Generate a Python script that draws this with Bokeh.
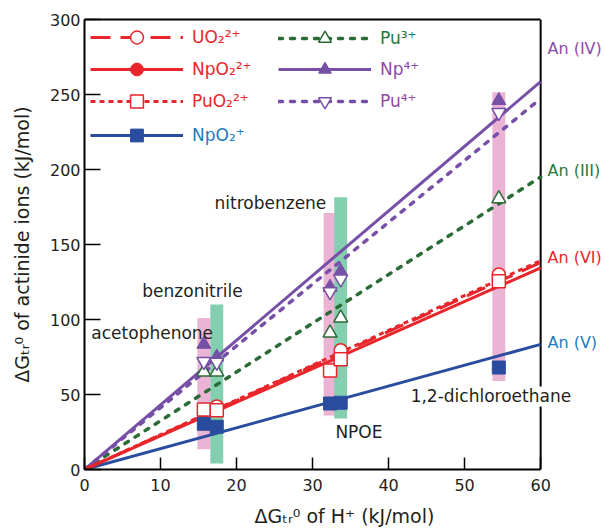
import numpy as np
from bokeh.plotting import figure
from bokeh.models import (Range1d, Label, Legend, LegendItem, FixedTicker,
                          LinearAxis, ColumnDataSource)
from bokeh.embed import file_html
from bokeh.resources import INLINE

FONT = "DejaVu Sans"
nan = float("nan")

# ---------------- data ----------------
solvents = ["acetophenone", "benzonitrile", "nitrobenzene", "NPOE", "1,2-dichloroethane"]
dG_H = [15.7, 17.4, 32.3, 33.7, 54.5]            # ΔGtr0 of H+ (kJ/mol)
range_low = [13.5, 4.0, 36.0, 34.0, 59.0]         # shaded range per solvent
range_high = [101.0, 110.0, 171.0, 181.5, 251.5]

UO2_2p = [nan, 42.0, nan, 79.5, 130.0]
NpO2_2p = [nan, nan, nan, 77.0, 128.0]
PuO2_2p = [40.0, 39.5, 66.0, 73.5, 125.5]
NpO2_1p = [30.5, 28.5, 44.0, 44.5, 68.0]
Pu_3p = [65.0, 65.0, 91.0, 101.0, 180.5]
Np_4p = [83.5, 75.0, 121.5, 132.0, 246.0]
Pu_4p = [72.0, 71.5, 118.5, 127.0, 238.0]

# slopes of the correlation lines through the origin
slope_UO2_2p = 2.30
slope_NpO2_2p = 2.24
slope_PuO2_2p = 2.32
slope_NpO2_1p = 1.39
slope_Pu_3p = 3.25
slope_Np_4p = 4.31
slope_Pu_4p = 4.12

x_ticks = [0, 10, 20, 30, 40, 50, 60]
y_ticks = [0, 50, 100, 150, 200, 250, 300]
x_max = 60
y_max = 300

# ---------------- colours ----------------
RED = "#e8262b"
BLUE_L = "#2a4c9f"
BLUE_T = "#1c7bc2"
GREEN_L = "#2b6b36"
GREEN_T = "#1f7a3f"
PURPLE_L = "#7650a6"
PURPLE_T = "#8d4ba8"
PINK_BAR = "#ebb3d4"
GREEN_BAR = "#83cfb0"
TXT = "#231f20"

# frame extends a little past x = 60 so that the right-hand series labels fit
p = figure(width=605, height=529, output_backend="svg", toolbar_location=None,
           x_range=Range1d(0, 68.4), y_range=Range1d(0, y_max),
           min_border_left=84, min_border_right=1, min_border_top=19,
           min_border_bottom=60, outline_line_color=None)
p.grid.visible = False

# axes
for ax, ticks, tin in ((p.xaxis[0], x_ticks, 12), (p.yaxis[0], y_ticks, 16)):
    ax.ticker = FixedTicker(ticks=ticks)
    ax.major_tick_in = tin
    ax.major_tick_out = 0
    ax.minor_tick_line_color = None
    ax.axis_line_width = 2
    ax.major_tick_line_width = 1.5
    ax.major_label_text_font = FONT
    ax.major_label_text_font_size = "16px"
    ax.major_label_text_color = TXT
    ax.axis_label_text_font = FONT
    ax.axis_label_text_font_size = "19px"
    ax.axis_label_text_font_style = "normal"
    ax.axis_label_text_color = TXT
p.xaxis.bounds = (0, x_max)
p.xaxis.axis_label = "ΔGₜᵣ⁰ of H⁺ (kJ/mol)"
p.yaxis.axis_label = "ΔGₜᵣ⁰ of actinide ions (kJ/mol)"
p.xaxis.major_label_standoff = 9
p.yaxis.major_label_standoff = 4
p.xaxis.axis_label_standoff = 11
p.yaxis.axis_label_standoff = 14

top_ax = LinearAxis(ticker=FixedTicker(ticks=[]), bounds=(0, x_max),
                    axis_line_width=2, major_tick_line_color=None,
                    minor_tick_line_color=None)
p.add_layout(top_ax, "above")

# shaded solvent ranges
bar_colors = [PINK_BAR, GREEN_BAR, PINK_BAR, GREEN_BAR, PINK_BAR]
bars = ColumnDataSource(dict(x=dG_H, top=range_high, bottom=range_low, color=bar_colors))
p.vbar(x="x", top="top", bottom="bottom", width=1.7, fill_color="color",
       line_color=None, source=bars)

# right border of the plot box
p.segment(x0=[x_max], y0=[0], x1=[x_max], y1=[y_max], line_color="black", line_width=2)

# correlation lines
xl = np.array([0, x_max])
ln_pu3 = p.line(xl, slope_Pu_3p * xl, line_color=GREEN_L, line_width=3.5,
                line_dash="4 8", line_cap="round")
ln_pu4 = p.line(xl, slope_Pu_4p * xl, line_color=PURPLE_L, line_width=3.5,
                line_dash="4 8", line_cap="round")
ln_np4 = p.line(xl, slope_Np_4p * xl, line_color=PURPLE_L, line_width=3)
ln_npo1 = p.line(xl, slope_NpO2_1p * xl, line_color=BLUE_L, line_width=3)
ln_npo2 = p.line(xl, slope_NpO2_2p * xl, line_color=RED, line_width=3)
ln_uo2 = p.line(xl, slope_UO2_2p * xl, line_color=RED, line_width=3, line_dash="20 10")
ln_puo2 = p.line(xl, slope_PuO2_2p * xl, line_color=RED, line_width=3, line_dash="5 4")

# markers
sz = 13
m_npo1 = p.scatter(dG_H, NpO2_1p, marker="square", size=sz, fill_color=BLUE_L, line_color=BLUE_L)
m_npo2 = p.scatter(dG_H, NpO2_2p, marker="circle", size=sz, fill_color=RED, line_color=RED)
m_uo2 = p.scatter(dG_H, UO2_2p, marker="circle", size=sz, fill_color="white", line_color=RED, line_width=1.5)
m_puo2 = p.scatter(dG_H, PuO2_2p, marker="square", size=sz, fill_color="white", line_color=RED, line_width=1.5)
m_pu3 = p.scatter(dG_H, Pu_3p, marker="triangle", size=14, fill_color="white", line_color=GREEN_L, line_width=1.5)
m_np4 = p.scatter(dG_H, Np_4p, marker="triangle", size=14, fill_color=PURPLE_L, line_color=PURPLE_L)
m_pu4 = p.scatter(dG_H, Pu_4p, marker="inverted_triangle", size=14, fill_color="white", line_color=PURPLE_L, line_width=1.5)


def add_legend(items, color, loc):
    lg = Legend(items=items, location=loc, orientation="vertical",
                glyph_width=93, glyph_height=32, label_height=32, spacing=0,
                padding=0, margin=0, label_standoff=9,
                label_text_font=FONT, label_text_font_size="17px",
                label_text_color=color, border_line_alpha=0,
                background_fill_alpha=0)
    p.add_layout(lg)


add_legend([LegendItem(label="UO₂²⁺", renderers=[ln_uo2, m_uo2]),
            LegendItem(label="NpO₂²⁺", renderers=[ln_npo2, m_npo2]),
            LegendItem(label="PuO₂²⁺", renderers=[ln_puo2, m_puo2])], RED, (6, 352))
add_legend([LegendItem(label="NpO₂⁺", renderers=[ln_npo1, m_npo1])], BLUE_T, (6, 318))
add_legend([LegendItem(label="Pu³⁺", renderers=[ln_pu3, m_pu3])], GREEN_T, (194, 415))
add_legend([LegendItem(label="Np⁴⁺", renderers=[ln_np4, m_np4]),
            LegendItem(label="Pu⁴⁺", renderers=[ln_pu4, m_pu4])], PURPLE_T, (194, 352))

# solvent annotations
ann = [("acetophenone", 0.9, 91.3, None),
       ("benzonitrile", 7.6, 118.7, None),
       ("nitrobenzene", 17.1, 178.0, None),
       ("NPOE", 33.0, 24.7, None),
       ("1,2-dichloroethane", 42.9, 48.7, "white")]
for t, x, y, bg in ann:
    p.add_layout(Label(x=x, y=y, text=t, text_font=FONT, text_font_size="17px",
                       text_color=TXT, text_baseline="middle",
                       background_fill_color=bg))

# series labels at right
for t, y, c in (("An (IV)", 281.0, PURPLE_T), ("An (III)", 199.3, GREEN_T),
                ("An (VI)", 141.3, RED), ("An (V)", 84.7, BLUE_T)):
    p.add_layout(Label(x=60.9, y=y, text=t, text_font=FONT, text_font_size="16px",
                       text_color=c, text_baseline="middle"))

open("out.html", "w").write(file_html(p, INLINE))
